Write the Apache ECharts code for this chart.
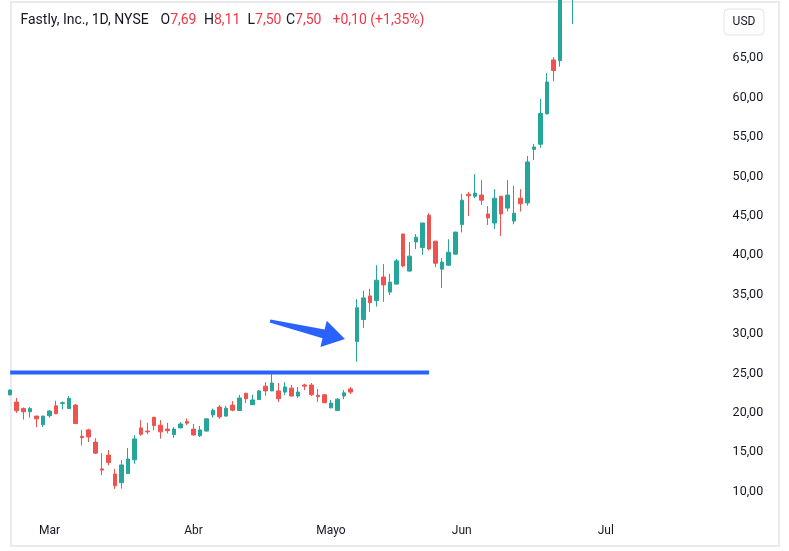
<!DOCTYPE html>
<html><head><meta charset="utf-8">
<script src="https://cdn.jsdelivr.net/npm/echarts@6/dist/echarts.min.js"></script>
<style>html,body{margin:0;padding:0;background:#fff}#c{width:789px;height:551px}</style>
</head><body><div id="c"></div>
<script>
const dates = [
'2020-02-21','2020-02-24','2020-02-25','2020-02-26','2020-02-27','2020-02-28',
'2020-03-02','2020-03-03','2020-03-04','2020-03-05','2020-03-06','2020-03-09','2020-03-10','2020-03-11','2020-03-12','2020-03-13','2020-03-16','2020-03-17','2020-03-18','2020-03-19','2020-03-20','2020-03-23','2020-03-24','2020-03-25','2020-03-26','2020-03-27','2020-03-30','2020-03-31',
'2020-04-01','2020-04-02','2020-04-03','2020-04-06','2020-04-07','2020-04-08','2020-04-09','2020-04-13','2020-04-14','2020-04-15','2020-04-16','2020-04-17','2020-04-20','2020-04-21','2020-04-22','2020-04-23','2020-04-24','2020-04-27','2020-04-28','2020-04-29','2020-04-30',
'2020-05-01','2020-05-04','2020-05-05','2020-05-06','2020-05-07','2020-05-08','2020-05-11','2020-05-12','2020-05-13','2020-05-14','2020-05-15','2020-05-18','2020-05-19','2020-05-20','2020-05-21','2020-05-22','2020-05-26','2020-05-27','2020-05-28','2020-05-29',
'2020-06-01','2020-06-02','2020-06-03','2020-06-04','2020-06-05','2020-06-08','2020-06-09','2020-06-10','2020-06-11','2020-06-12','2020-06-15','2020-06-16','2020-06-17','2020-06-18','2020-06-19','2020-06-22','2020-06-23','2020-06-24','2020-06-25','2020-06-26','2020-06-29','2020-06-30',
'2020-07-01','2020-07-02','2020-07-06','2020-07-07','2020-07-08','2020-07-09','2020-07-10','2020-07-13','2020-07-14','2020-07-15','2020-07-16','2020-07-17','2020-07-20','2020-07-21','2020-07-22','2020-07-23','2020-07-24','2020-07-27','2020-07-28'
];
const opens = [22.3,21.38,20.55,20.15,19.6,18.5,19.65,20.9,21.2,20.55,21.0,17.05,17.85,16.3,12.9,14.65,12.25,11.15,12.3,14.05,
18.1,17.7,19.45,18.45,17.95,17.25,18.1,18.9,17.95,17.1,17.7,19.75,20.75,19.6,21.0,20.3,22.5,21.05,21.7,23.4,
22.8,22.8,22.65,23.15,22.15,23.55,23.55,22.25,22.3,20.65,20.3,22.15,23.05,29.05,31.85,34.85,34.25,37.25,35.35,36.35,
42.7,38.0,41.7,41.0,45.1,41.8,38.25,38.75,40.15,43.9,47.75,47.5,47.65,45.25,44.1,47.5,46.0,44.35,47.25,46.65,
53.45,54.1,57.95,64.8,64.7,77.5,76.0];
const highs = [23.0,21.9,20.7,20.75,19.65,19.65,20.35,21.55,21.45,22.15,21.15,17.85,18.0,16.8,14.9,15.3,12.9,14.0,15.55,17.2,
19.1,18.75,19.5,19.1,18.75,18.2,18.85,19.3,18.6,18.35,19.3,20.55,21.0,20.9,21.5,22.3,22.55,22.3,22.9,23.9,
25.1,23.8,23.9,23.55,23.3,23.7,23.8,23.05,22.4,21.65,21.9,22.9,23.3,34.45,35.5,35.75,38.75,38.9,37.65,39.55,
42.75,41.7,42.7,44.15,45.35,41.85,39.65,42.05,43.0,47.8,48.05,50.3,49.55,46.25,48.4,47.55,49.55,48.8,48.4,52.6,
54.15,59.85,63.15,65.15,76.5,83.0,79.5];
const lows = [22.2,20.0,19.15,19.4,18.2,18.2,19.4,19.85,20.45,20.5,18.6,15.85,16.3,14.8,12.1,13.35,10.35,10.4,12.25,13.55,
17.1,17.3,17.8,16.75,17.4,16.85,18.05,18.45,17.15,16.95,17.65,19.4,19.25,19.55,20.2,20.25,21.25,21.0,21.65,22.2,
22.75,21.4,22.25,22.1,21.9,22.9,22.15,21.4,21.25,20.6,20.25,21.75,22.4,26.5,30.8,32.85,33.5,34.1,34.95,36.3,
38.5,37.95,40.8,40.05,40.65,38.5,35.85,38.65,40.1,42.9,45.0,47.25,46.4,43.85,43.35,42.45,45.6,43.95,45.55,46.3,
52.1,53.65,57.95,62.1,63.95,74.0,69.35];
const closes = [22.9,20.28,20.15,20.55,19.25,19.6,20.25,19.9,21.3,21.85,18.65,16.85,16.95,14.9,12.75,13.7,10.75,13.4,14.15,16.7,
17.3,17.6,18.4,17.6,17.75,17.95,18.6,18.7,17.2,17.85,19.25,20.35,19.5,20.6,20.35,21.9,21.8,21.65,22.8,22.8,
23.8,21.8,23.3,22.15,22.65,23.4,22.3,22.05,21.3,21.25,21.75,22.55,22.65,33.35,34.6,34.0,36.85,36.25,36.6,39.3,
38.65,39.9,42.3,44.1,40.8,39.0,39.15,40.4,42.95,47.0,47.55,47.9,47.0,44.75,47.25,45.25,47.65,45.35,46.55,51.85,
53.75,58.0,62.0,63.45,75.0,80.5,78.5];
const priceTicks = [10,15,20,25,30,35,40,45,50,55,60,65];
const monthNames = ['Ene','Feb','Mar','Abr','Mayo','Jun','Jul','Ago','Sep','Oct','Nov','Dic'];
const supportLevel = 25.13;
const supportFrom = '2020-02-21', supportTo = '2020-05-22';
const arrowTail = [39.7, 31.66], arrowTip = [51.15, 29.38];

const UP = '#26a69a', DOWN = '#ef5350', TXT = '#131722', FONT = 'Roboto, sans-serif';
const candles = opens.map((o, i) => [o, closes[i], lows[i], highs[i]]);
const monthStart = new Set();
dates.forEach((d, i) => { if (i > 0 && d.slice(5, 7) !== dates[i - 1].slice(5, 7)) monthStart.add(i); });

const chart = echarts.init(document.getElementById('c'), null, {renderer: 'canvas'});
chart.setOption({
  animation: false,
  backgroundColor: '#ffffff',
  grid: {left: 10.2, right: 65.4, top: 5, bottom: 39, containLabel: false, outerBoundsMode: 'none'},
  xAxis: {
    type: 'category', data: dates, boundaryGap: false,
    axisLine: {show: false}, axisTick: {show: false}, splitLine: {show: false},
    axisLabel: {
      interval: (i) => monthStart.has(i), margin: 13,
      color: TXT, fontSize: 12, fontFamily: FONT,
      formatter: (v) => monthNames[parseInt(v.slice(5, 7), 10) - 1]
    }
  },
  yAxis: {
    type: 'value', position: 'right', min: 7.43, max: 71.77, scale: true,
    axisLine: {show: false}, axisTick: {show: false}, splitLine: {show: false},
    axisLabel: {customValues: priceTicks, margin: 9, color: TXT, fontSize: 12.5, fontFamily: FONT,
      formatter: (v) => v.toFixed(2).replace('.', ',')}
  },
  series: [
    {type: 'candlestick', data: candles, barWidth: 4, clip: true,
     itemStyle: {color: UP, color0: DOWN, borderColor: UP, borderColor0: DOWN, borderWidth: 1}},
    {type: 'line', data: [[supportFrom, supportLevel], [supportTo, supportLevel]], symbol: 'none', silent: true,
     lineStyle: {color: '#2962ff', width: 4}, z: 5}
  ]
});

function px(j, v) {
  const f = Math.floor(j);
  const a = chart.convertToPixel({gridIndex: 0}, [f, v]);
  const b = chart.convertToPixel({gridIndex: 0}, [f + 1, v]);
  return [a[0] + (b[0] - a[0]) * (j - f), a[1]];
}
const T = px(arrowTail[0], arrowTail[1]), P = px(arrowTip[0], arrowTip[1]);
const dx = P[0] - T[0], dy = P[1] - T[1], L = Math.hypot(dx, dy);
const d = [dx / L, dy / L], n = [-d[1], d[0]];
const B = [P[0] - d[0] * 22, P[1] - d[1] * 22];
const pt = (c, k) => [c[0] + n[0] * k, c[1] + n[1] * k];
const arrowPts = [pt(T, -1.5), pt(B, -4.5), pt(B, -13.5), P, pt(B, 13.5), pt(B, 4.5), pt(T, 1.5)];

function group(x, letter, num) {
  return {type: 'text', left: x, top: 13.5, silent: true,
    style: {text: '{a|' + letter + '}{b|' + num + '}', rich: {
      a: {fill: TXT, fontSize: 14, fontFamily: FONT},
      b: {fill: '#f23645', fontSize: 14, fontFamily: FONT}}}};
}
chart.setOption({
  graphic: [
    {type: 'rect', shape: {x: 11, y: 2, width: 768, height: 544}, style: {fill: 'none', stroke: '#e8eaef', lineWidth: 2}, silent: true},
    {type: 'polygon', shape: {points: arrowPts}, style: {fill: '#2962ff'}, silent: true, z: 10},
    {type: 'text', left: 20.5, top: 13.5, silent: true, style: {text: 'Fastly, Inc., 1D, NYSE', fill: TXT, fontSize: 14, fontFamily: FONT}},
    group(160.5, 'O', '7,69'), group(204, 'H', '8,11'), group(247.5, 'L', '7,50'), group(286, 'C', '7,50'),
    {type: 'text', left: 332.5, top: 13.5, silent: true, style: {text: '+0,10 (+1,35%)', fill: '#f23645', fontSize: 14, fontFamily: FONT}},
    {type: 'rect', shape: {x: 724, y: 9, width: 40, height: 26, r: 4}, style: {fill: '#fff', stroke: '#e0e3eb', lineWidth: 1}, silent: true},
    {type: 'text', x: 744, y: 22, silent: true, style: {text: 'USD', fill: TXT, fontSize: 12, fontFamily: FONT, textAlign: 'center', textVerticalAlign: 'middle'}}
  ]
});
</script></body></html>
